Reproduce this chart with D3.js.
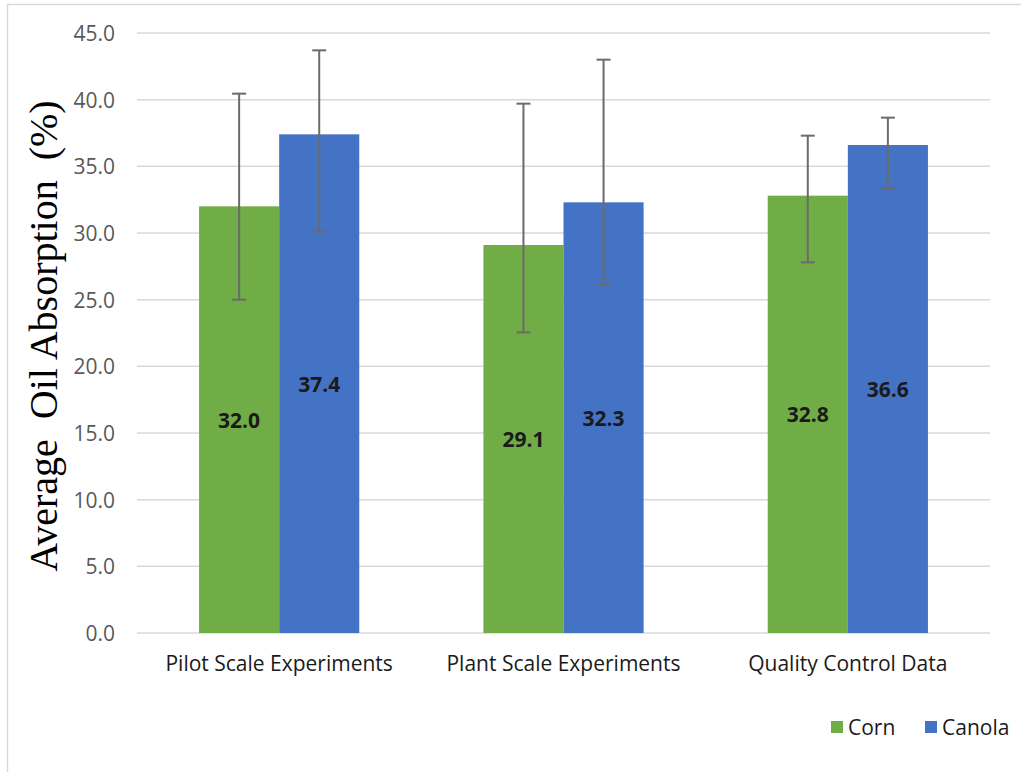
<!DOCTYPE html>
<html>
<head>
<meta charset="utf-8">
<script src="https://cdn.jsdelivr.net/npm/d3@7"></script>
<style>
  html, body { margin: 0; padding: 0; background: #fff; }
  svg { display: block; }
</style>
</head>
<body>
<svg id="chart" width="1021" height="772"></svg>
<script>
const categories = ["Pilot Scale Experiments", "Plant Scale Experiments", "Quality Control Data"];
const seriesNames = ["Corn", "Canola"];
const cornValues = [32.0, 29.1, 32.8];
const canolaValues = [37.4, 32.3, 36.6];
const cornErrPlus = [8.45, 10.6, 4.5];
const cornErrMinus = [7.0, 6.55, 5.0];
const canolaErrPlus = [6.3, 10.7, 2.05];
const canolaErrMinus = [7.3, 6.15, 3.25];
const yTicks = [0, 5, 10, 15, 20, 25, 30, 35, 40, 45];
const yTitle = "Average\u00A0 Oil Absorption\u00A0 (%)";
const colors = ["#70AD47", "#4472C4"];

const svg = d3.select("#chart");

// chart border
svg.append("rect")
  .attr("x", 7.5).attr("y", 4.5)
  .attr("width", 1030).attr("height", 790)
  .attr("fill", "#fff").attr("stroke", "#d9d9d9").attr("stroke-width", 1.5);

const plotLeft = 137, plotRight = 990;
const y = d3.scaleLinear().domain([0, 45]).range([633, 33]);
const x = d3.scaleBand().domain(categories).range([plotLeft, plotRight])
  .paddingInner(0.4366).paddingOuter(0.2183);
const xs = d3.scaleBand().domain(seriesNames).range([0, x.bandwidth()]);

// gridlines
svg.append("g").selectAll("line").data(yTicks).join("line")
  .attr("x1", plotLeft).attr("x2", plotRight)
  .attr("y1", d => y(d)).attr("y2", d => y(d))
  .attr("stroke", "#d9d9d9").attr("stroke-width", 1.5);

// y tick labels
svg.append("g").selectAll("text").data(yTicks).join("text")
  .attr("x", 115).attr("y", d => y(d))
  .attr("text-anchor", "end").attr("dominant-baseline", "central")
  .attr("font-family", "'Open Sans', sans-serif").attr("font-size", 21)
  .attr("fill", "#595959")
  .text(d => d.toFixed(1));

// y title
svg.append("text")
  .attr("transform", "translate(57,336) rotate(-90)")
  .attr("text-anchor", "middle")
  .attr("font-family", "'Liberation Serif', 'Times New Roman', serif")
  .attr("font-size", 40).attr("fill", "#000")
  .text(yTitle);

const data = [
  { name: "Corn", values: cornValues, plus: cornErrPlus, minus: cornErrMinus },
  { name: "Canola", values: canolaValues, plus: canolaErrPlus, minus: canolaErrMinus }
];

const rows = [];
data.forEach((s, si) => {
  categories.forEach((c, ci) => {
    rows.push({ series: s.name, si, cat: c, v: s.values[ci], hi: s.values[ci] + s.plus[ci], lo: s.values[ci] - s.minus[ci] });
  });
});

// bars
svg.append("g").selectAll("rect").data(rows).join("rect")
  .attr("x", d => x(d.cat) + xs(d.series))
  .attr("width", xs.bandwidth())
  .attr("y", d => y(d.v))
  .attr("height", d => y(0) - y(d.v))
  .attr("fill", d => colors[d.si]);

// value labels
svg.append("g").selectAll("text").data(rows).join("text")
  .attr("x", d => x(d.cat) + xs(d.series) + xs.bandwidth() / 2)
  .attr("y", d => y(d.v / 2))
  .attr("text-anchor", "middle").attr("dominant-baseline", "central")
  .attr("font-family", "'Open Sans', sans-serif").attr("font-weight", "bold")
  .attr("font-size", 21).attr("fill", "#1a1a1a")
  .text(d => d.v.toFixed(1));

// error bars
const eb = svg.append("g").attr("stroke", "#6b6b6b").attr("stroke-width", 2);
rows.forEach(d => {
  const cx = x(d.cat) + xs(d.series) + xs.bandwidth() / 2;
  eb.append("line").attr("x1", cx).attr("x2", cx).attr("y1", y(d.hi)).attr("y2", y(d.lo));
  eb.append("line").attr("x1", cx - 7).attr("x2", cx + 7).attr("y1", y(d.hi)).attr("y2", y(d.hi));
  eb.append("line").attr("x1", cx - 7).attr("x2", cx + 7).attr("y1", y(d.lo)).attr("y2", y(d.lo));
});

// x labels
svg.append("g").selectAll("text").data(categories).join("text")
  .attr("x", d => x(d) + x.bandwidth() / 2)
  .attr("y", 671)
  .attr("text-anchor", "middle")
  .attr("font-family", "'Open Sans', sans-serif").attr("font-size", 21)
  .attr("fill", "#1a1a1a")
  .text(d => d);

// legend
const legend = svg.append("g");
const legendItems = [{ name: "Corn", x: 831 }, { name: "Canola", x: 925 }];
legendItems.forEach((it, i) => {
  legend.append("rect").attr("x", it.x).attr("y", 721).attr("width", 12).attr("height", 12).attr("fill", colors[i]);
  legend.append("text").attr("x", it.x + 17).attr("y", 727)
    .attr("dominant-baseline", "central")
    .attr("font-family", "'Open Sans', sans-serif").attr("font-size", 21)
    .attr("fill", "#1a1a1a").text(it.name);
});
</script>
</body>
</html>
